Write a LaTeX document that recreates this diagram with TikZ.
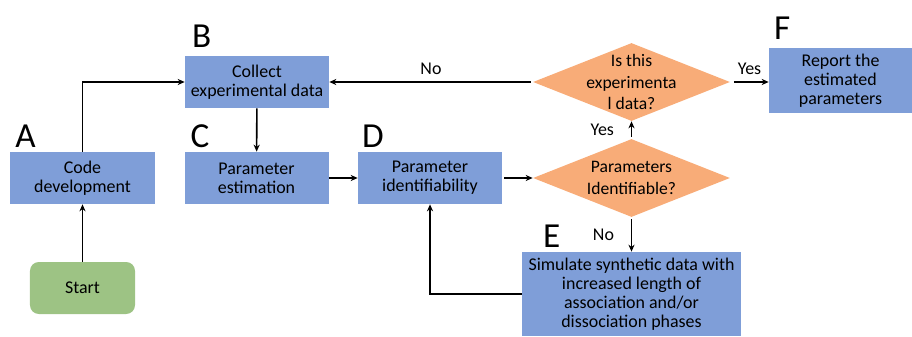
\documentclass[tikz,border=0pt]{standalone}
\usepackage{fontspec}
\setmainfont{Carlito}
\definecolor{procblue}{HTML}{7F9ED8}
\definecolor{decorange}{HTML}{F8AC78}
\definecolor{startgreen}{HTML}{9DC384}
\usetikzlibrary{
  shapes.geometric,
  arrows.meta,
  positioning
}

\begin{document}
\begin{tikzpicture}[
  proc/.style={rectangle, fill=procblue, minimum width=#1, minimum height=1.04cm, inner sep=1pt, font=\fontsize{10.2}{10.9}\selectfont, align=center},
  proc/.default=2.88cm,
  dec/.style={diamond, fill=decorange, minimum width=3.94cm, minimum height=1.56cm, inner sep=0pt},
  dectext/.style={font=\fontsize{10}{12.4}\selectfont, align=center, inner sep=0pt},
  startbox/.style={rectangle, fill=startgreen, rounded corners=5pt, minimum width=2.1cm, minimum height=1.04cm, font=\fontsize{10.2}{10.9}\selectfont},
  arr/.style={-{Stealth[length=4pt, width=3.5pt]}, line width=0.9pt, black},
  tag/.style={font=\fontsize{20}{24}\selectfont, inner sep=0pt},
  ans/.style={font=\fontsize{10.2}{12}\selectfont, inner sep=1pt}
]
  \useasboundingbox (0,0) rectangle (18.24,6.72);

  \node[proc] (code) at (1.65,3.16) {Code\\development};
  \node[tag, above right=0.08cm and 0.1cm] at (code.north west) {A};

  \node[startbox] (start) at (1.65,0.96) {Start};

  \node[proc] (collect) at (5.14,5.08) {Collect\\experimental data};
  \node[tag, above right=0.16cm and 0.14cm] at (collect.north west) {B};

  \node[proc] (estim) at (5.13,3.16) {Parameter\\estimation};
  \node[tag, above right=0.08cm and 0.12cm] at (estim.north west) {C};

  \node[proc] (ident) at (8.6,3.16) {Parameter\\identifiability};
  \node[tag, above right=0.08cm and 0.08cm] at (ident.north west) {D};

  \node[dec, label={[dectext]center:Parameters\\Identifiable?}] (isident) at (12.63,3.16) {};
  \node[dec, label={[dectext]center:Is this\\experimenta\\l data?}] (isexp) at (12.63,5.08) {};

  \node[proc=4.38cm, minimum height=1.68cm] (simul) at (12.63,0.84) {Simulate synthetic data with\\increased length of\\association and/or\\dissociation phases};
  \node[tag, above right=0.08cm and 0.42cm] at (simul.north west) {E};

  \node[proc=2.86cm, minimum height=1.3cm] (report) at (16.81,5.11) {Report the\\estimated\\parameters};
  \node[tag, above right=0.16cm and 0.1cm] at (report.north west) {F};

  \draw[arr] (start) -- (code);
  \draw[arr] (code.north) |- (collect.west);
  \draw[arr] (collect) -- (estim);
  \draw[arr] (estim) -- (ident);
  \draw[arr, shorten <=1pt] (ident) -- (isident);
  \draw[arr, shorten <=1pt] (isident) -- node[ans, left=0.3cm] {Yes} (isexp);
  \draw[arr, shorten <=1pt] (isident) -- node[ans, left=0.3cm] {No} (simul);
  \draw[arr, shorten <=1pt] (isexp) -- node[ans, above=0.1cm] {No} (collect);
  \draw[arr, shorten <=2pt] (isexp) -- node[ans, above=0.1cm] {Yes} (report.west |- isexp);
  \draw[arr] (simul.west) -| (ident.south);
\end{tikzpicture}
\end{document}
